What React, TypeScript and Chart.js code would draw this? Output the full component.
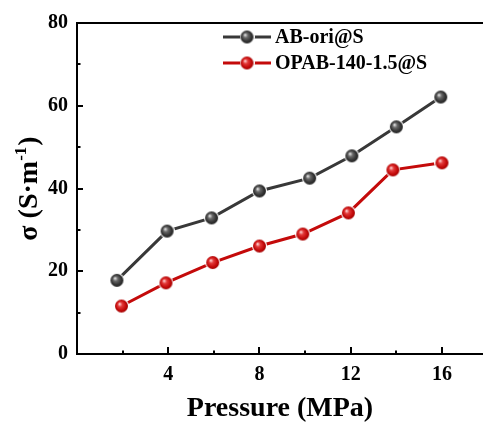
import React, { useEffect, useRef } from "react";
import { Chart, registerables } from "chart.js";
Chart.register(...registerables);

const seriesNames = ["AB-ori@S", "OPAB-140-1.5@S"];
const abOriX = [1.75, 3.95, 5.9, 8.0, 10.2, 12.05, 14.0, 15.95];
const abOriY = [17.8, 29.7, 32.9, 39.4, 42.5, 47.9, 54.9, 62.1];
const opabX = [1.95, 3.9, 5.95, 8.0, 9.9, 11.9, 13.85, 16.0];
const opabY = [11.6, 17.2, 22.1, 26.1, 29.0, 34.1, 44.5, 46.2];
const xMajorTicks = [4, 8, 12, 16];
const xMinorTicks = [2, 6, 10, 14];
const yMajorTicks = [0, 20, 40, 60, 80];
const yMinorTicks = [10, 30, 50, 70];
const xTitle = "Pressure (MPa)";
const yTitleMain = "σ (S·m";
const yTitleSup = "-1";
const yTitleEnd = ")";

const FONT = "'Liberation Serif', 'Times New Roman', serif";
const lineColors = ["#383838", "#c40a0a"];

function makeBall(kind: "black" | "red"): HTMLCanvasElement {
  const c = document.createElement("canvas");
  c.width = 15;
  c.height = 15;
  const g = c.getContext("2d")!;
  g.fillStyle = "#ffffff";
  g.beginPath();
  g.arc(7.5, 7.5, 7.5, 0, Math.PI * 2);
  g.fill();
  const grad = g.createRadialGradient(5.5, 5.3, 0.3, 7.5, 7.5, 7);
  if (kind === "black") {
    grad.addColorStop(0, "#e6e6e6");
    grad.addColorStop(0.3, "#6a6a6a");
    grad.addColorStop(0.7, "#333333");
    grad.addColorStop(1, "#222222");
  } else {
    grad.addColorStop(0, "#ffd6d6");
    grad.addColorStop(0.3, "#e23a3a");
    grad.addColorStop(0.7, "#c40a0a");
    grad.addColorStop(1, "#9a0000");
  }
  g.fillStyle = grad;
  g.beginPath();
  g.arc(7.5, 7.5, 6.5, 0, Math.PI * 2);
  g.fill();
  return c;
}

export default function App() {
  const ref = useRef<HTMLCanvasElement | null>(null);
  useEffect(() => {
    if (!ref.current) return;
    const balls = [makeBall("black"), makeBall("red")];

    const axesPlugin = {
      id: "customAxes",
      beforeDatasetsDraw(chart: any) {
        const ctx = chart.ctx;
        const { left, right, top, bottom } = chart.chartArea;
        const xs = chart.scales.x;
        const ys = chart.scales.y;
        ctx.save();
        ctx.strokeStyle = "#000";
        ctx.lineWidth = 2;
        ctx.beginPath();
        ctx.moveTo(left - 1, top);
        ctx.lineTo(right, top);
        ctx.stroke();
        const tick = (x1: number, y1: number, x2: number, y2: number) => {
          ctx.beginPath();
          ctx.moveTo(x1, y1);
          ctx.lineTo(x2, y2);
          ctx.stroke();
        };
        xMajorTicks.forEach((v) => {
          const px = Math.round(xs.getPixelForValue(v));
          tick(px, bottom, px, bottom - 7);
        });
        xMinorTicks.forEach((v) => {
          const px = Math.round(xs.getPixelForValue(v));
          tick(px, bottom, px, bottom - 3.5);
        });
        yMajorTicks.forEach((v) => {
          const py = Math.round(ys.getPixelForValue(v));
          tick(left, py, left + 6, py);
        });
        yMinorTicks.forEach((v) => {
          const py = Math.round(ys.getPixelForValue(v));
          tick(left, py, left + 3.5, py);
        });
        ctx.restore();
      },
      afterDraw(chart: any) {
        const ctx = chart.ctx;
        const { left, top, bottom } = chart.chartArea;
        ctx.save();
        const lx = left + 146;
        seriesNames.forEach((name, i) => {
          const ly = top + 14 + i * 26;
          ctx.strokeStyle = lineColors[i];
          ctx.lineWidth = 3;
          ctx.beginPath();
          ctx.moveTo(lx, ly);
          ctx.lineTo(lx + 48, ly);
          ctx.stroke();
          const b = balls[i];
          ctx.drawImage(b, lx + 24 - b.width / 2, ly - b.height / 2);
          ctx.fillStyle = "#000";
          ctx.font = `bold 20px ${FONT}`;
          ctx.textBaseline = "middle";
          ctx.textAlign = "left";
          ctx.fillText(name, lx + 52, ly + 1);
        });
        const cy = (top + bottom) / 2;
        ctx.translate(28, cy);
        ctx.rotate(-Math.PI / 2);
        const mainFont = `bold 28px ${FONT}`;
        const supFont = `bold 17px ${FONT}`;
        ctx.font = mainFont;
        const w1 = ctx.measureText(yTitleMain).width;
        const w3 = ctx.measureText(yTitleEnd).width;
        ctx.font = supFont;
        const w2 = ctx.measureText(yTitleSup).width;
        const total = w1 + w2 + w3 + 1;
        let x = -total / 2;
        ctx.fillStyle = "#000";
        ctx.textBaseline = "alphabetic";
        ctx.textAlign = "left";
        ctx.font = mainFont;
        ctx.fillText(yTitleMain, x, 9);
        x += w1;
        ctx.font = supFont;
        ctx.fillText(yTitleSup, x, -2);
        x += w2 + 1;
        ctx.font = mainFont;
        ctx.fillText(yTitleEnd, x, 9);
        ctx.restore();
      },
    };

    const chart = new Chart(ref.current, {
      type: "line",
      data: {
        datasets: [
          {
            label: seriesNames[0],
            data: abOriX.map((x, i) => ({ x, y: abOriY[i] })),
            borderColor: lineColors[0],
            borderWidth: 3,
            pointStyle: balls[0],
            pointRadius: 7,
            tension: 0,
            clip: false,
          },
          {
            label: seriesNames[1],
            data: opabX.map((x, i) => ({ x, y: opabY[i] })),
            borderColor: lineColors[1],
            borderWidth: 3,
            pointStyle: balls[1],
            pointRadius: 7,
            tension: 0,
            clip: false,
          },
        ],
      },
      options: {
        animation: false,
        responsive: false,
        layout: { autoPadding: false, padding: { top: 23, right: 0, left: 0, bottom: 0 } },
        plugins: { legend: { display: false }, tooltip: { enabled: false } },
        scales: {
          x: {
            type: "linear",
            min: 0,
            max: 17.8,
            grid: { display: false, drawTicks: false },
            border: { display: true, color: "#000", width: 2 },
            afterBuildTicks: (s: any) => {
              s.ticks = xMajorTicks.map((v) => ({ value: v }));
            },
            ticks: {
              color: "#000",
              padding: 9,
              font: { family: FONT, size: 20, weight: "bold" },
            },
            title: {
              display: true,
              text: xTitle,
              color: "#000",
              padding: 0,
              font: { family: FONT, size: 28, weight: "bold" },
            },
            afterFit: (s: any) => {
              s.height = 72;
              s.paddingLeft = 0;
              s.paddingRight = 0;
            },
          },
          y: {
            type: "linear",
            min: 0,
            max: 80,
            grid: { display: false, drawTicks: false },
            border: { display: true, color: "#000", width: 2 },
            afterBuildTicks: (s: any) => {
              s.ticks = yMajorTicks.map((v) => ({ value: v }));
            },
            ticks: {
              color: "#000",
              padding: 9,
              font: { family: FONT, size: 20, weight: "bold" },
            },
            afterFit: (s: any) => {
              s.width = 77;
              s.paddingTop = 0;
              s.paddingBottom = 0;
            },
          },
        },
      } as any,
      plugins: [axesPlugin],
    });
    return () => chart.destroy();
  }, []);

  return (
    <div style={{ position: "absolute", left: 0, top: 0, width: 483, height: 426, overflow: "hidden", background: "#fff" }}>
      <canvas ref={ref} width={483} height={426} style={{ display: "block" }} />
    </div>
  );
}
